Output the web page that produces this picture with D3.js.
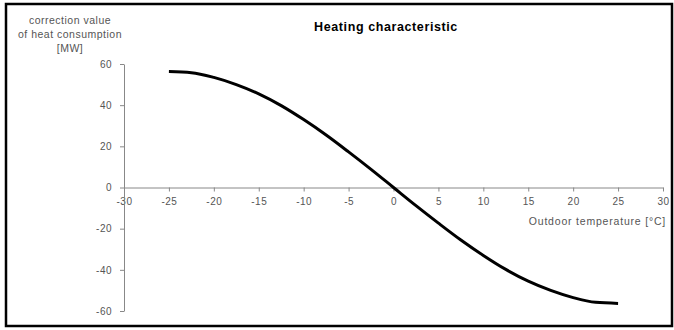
<!DOCTYPE html>
<html>
<head>
<meta charset="utf-8">
<script src="https://cdn.jsdelivr.net/npm/d3@7"></script>
<style>
body { margin: 0; background: #fff; }
svg text { font-family: "Liberation Sans", Arial, sans-serif; }
</style>
</head>
<body>
<div id="chart"></div>
<script>
// Outdoor temperature [°C]
var temps = [-25, -22.5, -20, -17.5, -15, -12.5, -10, -7.5, -5, -2.5, 0,
             2.5, 5, 7.5, 10, 12.5, 15, 17.5, 20, 22.5, 25];
// correction value of heat consumption [MW]
var correction = [56.3, 55.8, 53.5, 50.0, 45.5, 39.8, 33.0, 25.5, 17.3, 8.8, 0,
                  -8.8, -17.3, -25.5, -33.0, -39.8, -45.5, -50.0, -53.5, -55.8, -56.3];
var xTicks = [-30, -25, -20, -15, -10, -5, 0, 5, 10, 15, 20, 25, 30];
var yTicks = [-60, -40, -20, 0, 20, 40, 60];

var width = 674, height = 330;
var textColor = "#555";
var axisColor = "#888";

var svg = d3.select("#chart").append("svg")
    .attr("width", width)
    .attr("height", height);

// outer frame
svg.append("rect")
    .attr("x", 6).attr("y", 4)
    .attr("width", 666).attr("height", 322)
    .attr("fill", "none")
    .attr("stroke", "#000")
    .attr("stroke-width", 2.5);

var x = d3.scaleLinear().domain([-30, 30]).range([124, 663]);
var y = d3.scaleLinear().domain([-60, 60]).range([311, 64]);

// plain hyphen for negatives, like the original
var fmt = function(d) { return String(d); };

// x axis on the zero line
var xAxis = svg.append("g")
    .attr("transform", "translate(0," + y(0) + ")")
    .call(d3.axisBottom(x).tickValues(xTicks).tickFormat(fmt)
            .tickSize(4).tickPadding(6).tickSizeOuter(0));
xAxis.select(".domain").attr("stroke", axisColor);
xAxis.selectAll(".tick line").attr("stroke", axisColor);
xAxis.selectAll(".tick text")
    .attr("fill", textColor)
    .style("font-size", "10px")
    .style("letter-spacing", "0.5px");

// y axis
var yAxis = svg.append("g")
    .attr("transform", "translate(" + x(-30) + ",0)")
    .call(d3.axisLeft(y).tickValues(yTicks).tickFormat(fmt)
            .tickSize(4).tickPadding(8).tickSizeOuter(0));
yAxis.select(".domain").attr("stroke", axisColor);
yAxis.selectAll(".tick line").attr("stroke", axisColor);
yAxis.selectAll(".tick text")
    .attr("fill", textColor)
    .style("font-size", "10px")
    .style("letter-spacing", "0.5px");

// curve
var line = d3.line()
    .x(function(d, i) { return x(temps[i]); })
    .y(function(d) { return y(d); })
    .curve(d3.curveMonotoneX);

svg.append("path")
    .datum(correction)
    .attr("d", line)
    .attr("fill", "none")
    .attr("stroke", "#000")
    .attr("stroke-width", 3);

// title
svg.append("text")
    .attr("x", 386).attr("y", 31)
    .attr("text-anchor", "middle")
    .attr("fill", "#000")
    .style("font-size", "12.5px")
    .style("font-weight", "bold")
    .style("letter-spacing", "0.6px")
    .text("Heating characteristic");

// y axis title
var yTitle = ["correction value", "of heat consumption", "[MW]"];
svg.append("g").selectAll("text")
    .data(yTitle)
    .enter()
    .append("text")
        .attr("x", 70)
        .attr("y", function(d, i) { return 24 + i * 14; })
        .attr("text-anchor", "middle")
        .attr("fill", textColor)
        .style("font-size", "10.5px")
        .style("letter-spacing", "0.5px")
        .text(function(d) { return d; });

// x axis title
svg.append("text")
    .attr("x", 666).attr("y", 225)
    .attr("text-anchor", "end")
    .attr("fill", textColor)
    .style("font-size", "10.5px")
    .style("letter-spacing", "0.8px")
    .text("Outdoor temperature [°C]");
</script>
</body>
</html>
